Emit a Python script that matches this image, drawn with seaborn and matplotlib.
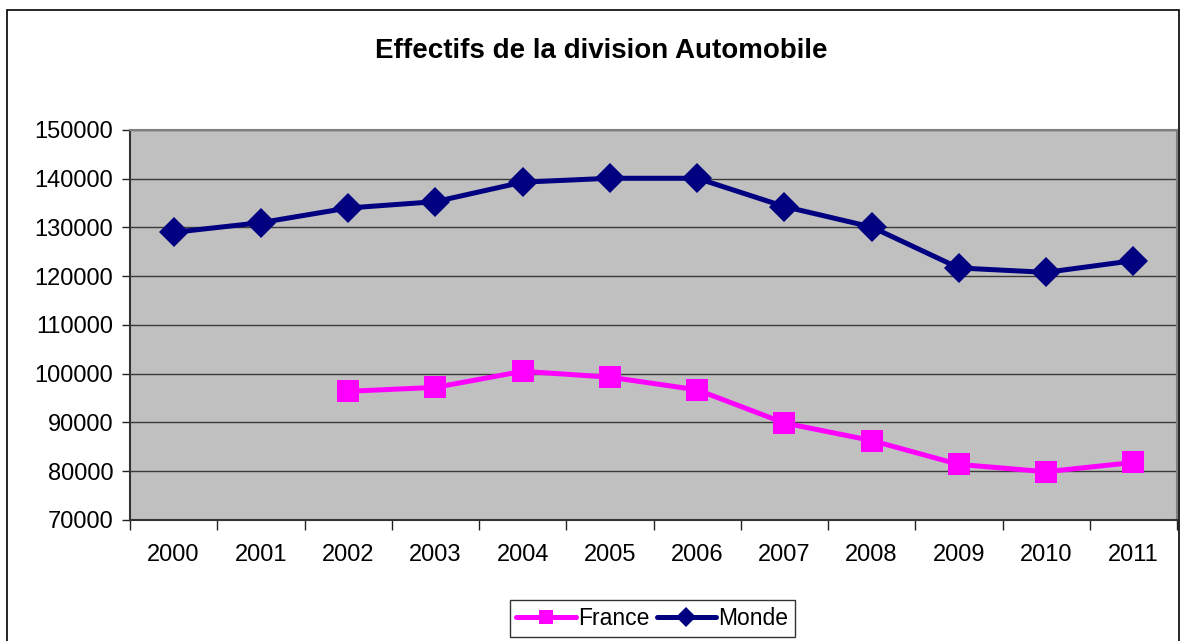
import numpy as np
import pandas as pd
import matplotlib
matplotlib.use("Agg")
import matplotlib.pyplot as plt
import seaborn as sns
from matplotlib.patches import Rectangle
from matplotlib.lines import Line2D

# Data
years = [2000, 2001, 2002, 2003, 2004, 2005, 2006, 2007, 2008, 2009, 2010, 2011]
monde = [129000, 131000, 134000, 135300, 139300, 140100, 140100, 134300, 130100, 121700, 120800, 123200]
france = [np.nan, np.nan, 96400, 97200, 100500, 99300, 96700, 89900, 86300, 81400, 79900, 81800]
y_ticks = [70000, 80000, 90000, 100000, 110000, 120000, 130000, 140000, 150000]
title = "Effectifs de la division Automobile"

df = pd.DataFrame({"annee": years, "France": france, "Monde": monde})
long_df = df.melt(id_vars="annee", var_name="serie", value_name="effectif").dropna()

sns.set_theme(style="white")
plt.rcParams["font.family"] = ["Liberation Sans", "DejaVu Sans"]
plt.rcParams["text.color"] = "black"

fig = plt.figure(figsize=(11.82, 6.41), dpi=100)
ax = fig.add_axes([130 / 1182, 1 - 520 / 641, 1047 / 1182, 390 / 641])

palette = {"France": "#FF00FF", "Monde": "#000080"}
markers = {"France": "s", "Monde": "D"}

sns.lineplot(data=long_df, x="annee", y="effectif", hue="serie", style="serie",
             hue_order=["France", "Monde"], style_order=["France", "Monde"],
             palette=palette, markers=markers, dashes=False,
             linewidth=3.6, markersize=15.5, markeredgewidth=0, ax=ax)

ax.set_facecolor("#C0C0C0")
ax.set_xlim(years[0] - 0.5, years[-1] + 0.5)
ax.set_ylim(y_ticks[0], y_ticks[-1])
ax.set_yticks(y_ticks)
ax.set_yticklabels([str(v) for v in y_ticks])
ax.set_xticks(years)
ax.set_xticklabels([str(y) for y in years])
ax.set_xticks([y - 0.5 for y in years] + [years[-1] + 0.5], minor=True)
ax.tick_params(axis="x", which="major", length=0, pad=17, labelsize=17, labelcolor="black")
ax.tick_params(axis="x", which="minor", length=7, width=1, direction="out", color="#222222", bottom=True)
ax.tick_params(axis="y", length=6, width=1, direction="out", pad=6, labelsize=17,
               labelcolor="black", color="#222222", left=True)
ax.yaxis.grid(True, color="#3a3a3a", linewidth=1)
ax.set_axisbelow(True)
ax.set_xlabel("")
ax.set_ylabel("")

for side in ["left", "bottom"]:
    ax.spines[side].set_color("#333333")
    ax.spines[side].set_linewidth(1.5)
for side in ["top", "right"]:
    ax.spines[side].set_color("#808080")
    ax.spines[side].set_linewidth(1.5)

fig.text(0.509, 1 - 51 / 641, title, ha="center", va="center", fontsize=20,
         fontweight="bold", color="black")

# legend with smaller markers, like the spreadsheet legend
ax.get_legend().remove()
handles = [Line2D([], [], color=palette[s], marker=markers[s], linewidth=3.6,
                  markersize=10, markeredgewidth=0) for s in ["France", "Monde"]]
leg = fig.legend(handles, ["France", "Monde"], loc="lower center", bbox_to_anchor=(0.552, -0.012),
                 ncol=2, fontsize=16.5, frameon=True, fancybox=False, handlelength=2.6,
                 columnspacing=0.3, handletextpad=0.1, borderpad=0.3)
leg.get_frame().set_edgecolor("black")
leg.get_frame().set_linewidth(1)
for t in leg.get_texts():
    t.set_color("black")

fig.patches.append(Rectangle((7 / 1182, -0.01), 1172 / 1182, 1 - 10 / 641 + 0.01,
                             transform=fig.transFigure, fill=False, edgecolor="black",
                             linewidth=1.2, zorder=0))

fig.savefig("out.png", dpi=100, facecolor="white")
